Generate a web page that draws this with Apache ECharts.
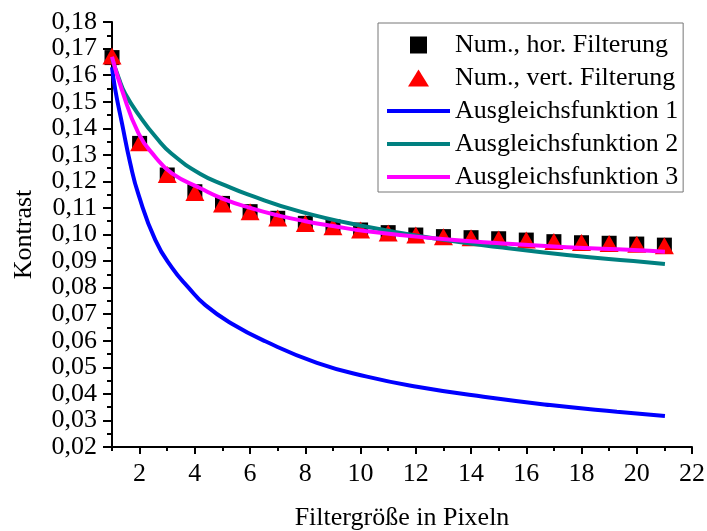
<!DOCTYPE html>
<html>
<head>
<meta charset="utf-8">
<script src="https://cdn.jsdelivr.net/npm/echarts@6/dist/echarts.min.js"></script>
<style>html,body{margin:0;padding:0;background:#fff}#c{width:707px;height:531px}</style>
</head>
<body>
<div id="c"></div>
<script>
// Data
const filterSizes = [1,2,3,4,5,6,7,8,9,10,11,12,13,14,15,16,17,18,19,20,21];
const horValues  = [0.1666,0.1343,0.1224,0.1161,0.1117,0.1086,0.1061,0.1042,0.1029,0.1017,0.1007,0.0998,0.0992,0.0988,0.0984,0.0979,0.0973,0.0969,0.0967,0.0964,0.0960];
const vertValues = [0.1672,0.1345,0.1226,0.1158,0.1115,0.1086,0.1062,0.1041,0.1029,0.1017,0.1006,0.0998,0.0992,0.0988,0.0983,0.0979,0.0974,0.0970,0.0966,0.0963,0.0958];

const fit1X = [1,1.12,1.36,1.66,1.96,2.57,3.17,3.77,4.38,5.34,6.55,8.42,10.23,12.04,14.45,16.86,19.28,21.02];
const fit1Y = [0.163,0.1544,0.1419,0.1268,0.1150,0.0979,0.0875,0.0800,0.0734,0.0664,0.0598,0.0517,0.0465,0.0427,0.0389,0.0358,0.0333,0.0317];

const fit2X = [1,1.24,1.48,2.04,2.6,3.17,4.2,5.1,5.89,7.82,10.23,12.64,15.05,17.47,19.88,21.02];
const fit2Y = [0.1664,0.1590,0.1530,0.1440,0.1365,0.1303,0.1228,0.1185,0.1152,0.1086,0.1029,0.0986,0.0952,0.0923,0.0900,0.0889];

const fit3X = [1,1.36,1.96,2.56,3.17,4.2,5,6,7,8,9,10.23,12.64,15.05,17.47,19.88,21.02];
const fit3Y = [0.1669,0.1544,0.1381,0.1293,0.1230,0.1174,0.1135,0.1100,0.1072,0.1050,0.1032,0.1012,0.0986,0.0967,0.0952,0.0942,0.0935];

const xMajorTicks = [2,4,6,8,10,12,14,16,18,20,22];
const xMinorTicks = [1,3,5,7,9,11,13,15,17,19,21];

const names = ['Num., hor. Filterung','Num., vert. Filterung','Ausgleichsfunktion 1','Ausgleichsfunktion 2','Ausgleichsfunktion 3'];
const xTitle = 'Filtergröße in Pixeln';
const yTitle = 'Kontrast';

const FONT = '"Liberation Serif", "Times New Roman", serif';
const pairs = (xs, ys) => xs.map((x, i) => [x, ys[i]]);
const triPath = 'path://M0,17L10.5,0L21,17Z';
const sqPath = 'path://M0,0L16,0L16,16L0,16Z';

const chart = echarts.init(document.getElementById('c'), null, {renderer: 'canvas'});
const axisLine = {show: true, lineStyle: {color: '#000', width: 2}};
const lineLegend = (name, color) => ({name: name, itemStyle: {opacity: 0}, lineStyle: {color: color, width: 4}});
const lineSeries = (name, color, xs, ys) => ({
  name: name, type: 'line', smooth: 0.5, symbol: 'none', showSymbol: false,
  lineStyle: {color: color, width: 4}, itemStyle: {color: color}, data: pairs(xs, ys)
});
chart.setOption({
  animation: false,
  backgroundColor: '#fff',
  textStyle: {fontFamily: FONT, color: '#000'},
  grid: {left: 112, right: 15, top: 22, bottom: 84, containLabel: false, outerBoundsMode: 'none'},
  legend: {
    orient: 'vertical', left: 378, top: 23,
    padding: [9, 5, 2, 7],
    itemWidth: 63, itemHeight: 17, itemGap: 7,
    symbolKeepAspect: true,
    borderColor: '#777', borderWidth: 1,
    textStyle: {fontFamily: FONT, fontSize: 26, color: '#000'},
    data: [
      {name: names[0], icon: sqPath},
      {name: names[1], icon: triPath},
      lineLegend(names[2], '#0000ff'),
      lineLegend(names[3], '#008080'),
      lineLegend(names[4], '#ff00ff')
    ]
  },
  xAxis: [{
    type: 'value', min: 1, max: 22,
    name: xTitle, nameLocation: 'middle', nameGap: 58,
    nameTextStyle: {fontFamily: FONT, fontSize: 26, color: '#000'},
    axisLine: axisLine,
    axisTick: {show: true, length: 7, customValues: xMajorTicks, lineStyle: {color: '#000', width: 2}},
    axisLabel: {customValues: xMajorTicks, fontFamily: FONT, fontSize: 26, color: '#000', margin: 14},
    splitLine: {show: false}
  }, {
    type: 'value', min: 1, max: 22, position: 'top', offset: -425,
    axisLine: {show: false},
    axisTick: {show: true, inside: true, length: 4, customValues: xMinorTicks, lineStyle: {color: '#000', width: 2}},
    axisLabel: {show: false},
    splitLine: {show: false}
  }],
  yAxis: {
    type: 'value', min: 0.02, max: 0.18, interval: 0.01,
    name: yTitle, nameLocation: 'middle', nameGap: 75,
    nameTextStyle: {fontFamily: FONT, fontSize: 26, color: '#000'},
    axisLine: axisLine,
    axisTick: {show: true, length: 9, lineStyle: {color: '#000', width: 2}},
    minorTick: {show: true, splitNumber: 2, length: 5, lineStyle: {color: '#000', width: 2}},
    axisLabel: {fontFamily: FONT, fontSize: 26, color: '#000', margin: 15,
      formatter: v => v.toFixed(2).replace('.', ',')},
    splitLine: {show: false}
  },
  series: [
    {name: names[0], type: 'scatter', symbol: 'rect', symbolSize: 15,
     itemStyle: {color: '#000', opacity: 1}, data: pairs(filterSizes, horValues)},
    {name: names[1], type: 'scatter', symbol: 'triangle', symbolSize: [19, 17],
     itemStyle: {color: '#ff0000', opacity: 1}, data: pairs(filterSizes, vertValues)},
    lineSeries(names[2], '#0000ff', fit1X, fit1Y),
    lineSeries(names[3], '#008080', fit2X, fit2Y),
    lineSeries(names[4], '#ff00ff', fit3X, fit3Y)
  ]
});
</script>
</body>
</html>
